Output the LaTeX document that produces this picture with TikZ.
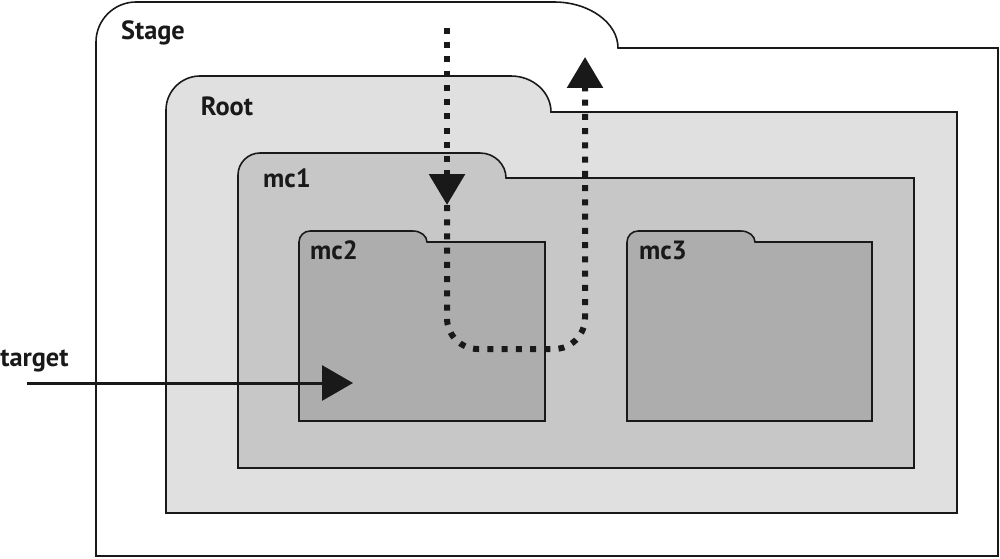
\documentclass[tikz,border=0pt]{standalone}
\usepackage{fontspec}
\setmainfont{PT Sans}
\usetikzlibrary{arrows.meta,positioning}

% folder outline: #1 style, #2 left, #3 tab top, #4 body top, #5 right, #6 bottom,
% #7 tab right, #8 left radius, #9 tab corner width
\newcommand{\folder}[9]{%
  \filldraw[#1] (#2,#6) -- (#2,#3+#8)
    .. controls (#2,#3+0.45*#8) and (#2+0.45*#8,#3) .. (#2+#8,#3)
    -- (#7-#9,#3)
    .. controls (#7-0.45*#9,#3) and (#7,{#3+0.45*(#4-#3)}) .. (#7,#4)
    -- (#5,#4) -- (#5,#6) -- cycle;}

\begin{document}
\begin{tikzpicture}[
	x=0.02cm, y=-0.02cm,
	folder/.style = {draw=black!90, line width=0.9pt},
	stage/.style  = {folder, fill=white},
	root/.style   = {folder, fill=black!12},
	clip 1/.style = {folder, fill=black!22},
	clip 2/.style = {folder, fill=black!32},
	label/.style  = {font=\fontsize{15}{18}\selectfont\bfseries, inner sep=0pt, text=black!90},
	flow/.style   = {draw=black!90, line width=0.12cm, dash pattern=on 0.12cm off 0.165cm},
	tip/.style    = {-{Triangle[length=0.62cm, width=0.7cm]}, color=black!90}]

	\useasboundingbox (0,0) rectangle (1000,558);

	\folder{stage}{96}{2}{48}{998}{556}{618}{40}{64}
	\folder{root}{166}{76}{112}{957}{513}{551}{34}{40}
	\folder{clip 1}{238}{153}{178}{914}{468}{506}{22}{26}
	\folder{clip 2}{299}{231}{242}{545}{421}{427}{11}{14}
	\folder{clip 2}{627}{231}{242}{872}{421}{755}{11}{14}

	\node[label] (stage) at (153,33) {Stage};
	\node[label] (root)  at (227,106) {Root};
	\node[label] (mc1)   at (287,178) {mc1};
	\node[label] (mc2)   at (334,250) {mc2};
	\node[label] (mc3)   at (663,250) {mc3};
	\node[label, anchor=west] (target) at (0,361) {target};

	% event flow
	\coordinate (in)    at (447,28);
	\coordinate (down)  at (447,205);
	\coordinate (bendL) at (447,349);
	\coordinate (bendR) at (585,349);
	\coordinate (out)   at (585,57);
	\draw[flow, tip] (in) -- (down);
	\draw[flow, tip, rounded corners=0.62cm] (down) -- (bendL) -- (bendR) -- (out);

	\coordinate (t0)  at (27,383);
	\coordinate (hit) at (353,383);
	\draw[tip, line width=0.06cm] (t0) -- (hit);

\end{tikzpicture}
\end{document}
